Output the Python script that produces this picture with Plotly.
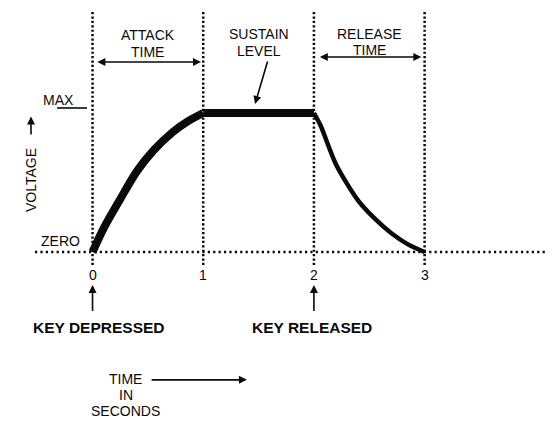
import plotly.graph_objects as go

# Envelope segments (time in seconds, voltage as fraction of MAX)
attack_t = [0.0, 0.1, 0.25, 0.4, 0.55, 0.72, 0.86, 1.0]
attack_v = [0.0, 0.17, 0.38, 0.58, 0.73, 0.86, 0.94, 1.0]
sustain_t = [1.0, 2.0]
sustain_v = [1.0, 1.0]
release_t = [2.0, 2.06, 2.2, 2.4, 2.55, 2.7, 2.85, 3.0]
release_v = [1.0, 0.91, 0.63, 0.37, 0.24, 0.135, 0.055, 0.0]

tick_vals = [0, 1, 2, 3]
tick_text = ["0", "1", "2", "3"]

phase_centers = [0.5, 1.5, 2.5]
phase_labels = [["ATTACK", "TIME"], ["SUSTAIN", "LEVEL"], ["RELEASE", "TIME"]]
phase_label_y = [(1.558, 1.442), (1.565, 1.449), (1.572, 1.456)]

axis_title_lines = ["TIME", "IN", "SECONDS"]
axis_title_y = [-0.914, -1.029, -1.144]

FONT = "Liberation Sans"
INK = "#0a0a0a"

fig = go.Figure()
fig.add_trace(go.Scatter(x=attack_t, y=attack_v, mode="lines",
                         line=dict(color=INK, width=8, shape="spline", smoothing=0.8),
                         hoverinfo="skip"))
fig.add_trace(go.Scatter(x=sustain_t, y=sustain_v, mode="lines",
                         line=dict(color=INK, width=8), hoverinfo="skip"))
fig.add_trace(go.Scatter(x=release_t, y=release_v, mode="lines",
                         line=dict(color=INK, width=4.5, shape="spline", smoothing=0.8),
                         hoverinfo="skip"))

shapes = []
# dotted time markers
for t in tick_vals:
    shapes.append(dict(type="line", xref="x", yref="y", x0=t, x1=t, y0=-0.094, y1=1.74,
                       line=dict(color=INK, width=2.5, dash="2.2px,2.2px"), layer="below"))
# dotted zero line
shapes.append(dict(type="line", xref="x", yref="y", x0=-0.52, x1=4.115, y0=0, y1=0,
                   line=dict(color=INK, width=2.5, dash="2.2px,3.2px"), layer="below"))
# MAX level tick
shapes.append(dict(type="line", xref="x", yref="y", x0=-0.32, x1=-0.05, y0=1.036, y1=1.036,
                   line=dict(color=INK, width=1.6)))

ann = []
LBL = dict(family=FONT, size=14, color=INK)
for xc, lines, ys in zip(phase_centers, phase_labels, phase_label_y):
    for line, yy in zip(lines, ys):
        ann.append(dict(x=xc, y=yy, xref="x", yref="y", text=line, showarrow=False, font=LBL))

# double-headed span arrows
for (a, b, yy) in [(0.03, 0.98, 1.367), (2.04, 2.97, 1.403)]:
    ann.append(dict(x=b, y=yy, ax=a, ay=yy, xref="x", yref="y", axref="x", ayref="y",
                    text="", showarrow=True, arrowhead=2, arrowsize=1, arrowwidth=1.6,
                    arrowside="end+start", arrowcolor=INK))

# sustain level pointer
ann.append(dict(x=1.468, y=1.065, ax=1.585, ay=1.381, xref="x", yref="y", axref="x", ayref="y",
                text="", showarrow=True, arrowhead=2, arrowsize=1, arrowwidth=1.6, arrowcolor=INK))

ann.append(dict(x=-0.31, y=1.095, xref="x", yref="y", text="MAX", showarrow=False, font=LBL))
ann.append(dict(x=-0.29, y=0.08, xref="x", yref="y", text="ZERO", showarrow=False, font=LBL))
ann.append(dict(x=-0.556, y=0.518, xref="x", yref="y", text="VOLTAGE", showarrow=False,
                textangle=-90, font=LBL))
ann.append(dict(x=-0.556, y=0.975, ax=-0.556, ay=0.835, xref="x", yref="y", axref="x", ayref="y",
                text="", showarrow=True, arrowhead=2, arrowsize=1, arrowwidth=1.6, arrowcolor=INK))

for t, lab in zip(tick_vals, tick_text):
    ann.append(dict(x=t, y=-0.165, xref="x", yref="y", text=lab, showarrow=False, font=LBL))

# key event pointers
for t, lab, xc in [(0, "KEY DEPRESSED", 0.06), (2, "KEY RELEASED", 1.98)]:
    ann.append(dict(x=t, y=-0.237, ax=t, ay=-0.435, xref="x", yref="y", axref="x", ayref="y",
                    text="", showarrow=True, arrowhead=2, arrowsize=1, arrowwidth=1.6,
                    arrowcolor=INK))
    ann.append(dict(x=xc, y=-0.54, xref="x", yref="y", text="<b>" + lab + "</b>",
                    showarrow=False, font=dict(family=FONT, size=15.5, color=INK)))

for line, yy in zip(axis_title_lines, axis_title_y):
    ann.append(dict(x=0.30, y=yy, xref="x", yref="y", text=line, showarrow=False,
                    font=LBL, borderpad=0))
ann.append(dict(x=1.395, y=-0.92, ax=0.52, ay=-0.92, xref="x", yref="y", axref="x", ayref="y",
                text="", showarrow=True, arrowhead=2, arrowsize=1, arrowwidth=1.6, arrowcolor=INK))

fig.update_layout(
    width=555, height=426,
    margin=dict(l=0, r=0, t=0, b=0),
    paper_bgcolor="white", plot_bgcolor="white",
    showlegend=False,
    shapes=shapes, annotations=ann,
    xaxis=dict(range=[-0.836, 4.178], visible=False, fixedrange=True),
    yaxis=dict(range=[-1.252, 1.813], visible=False, fixedrange=True),
)

fig.write_html("out.html")
